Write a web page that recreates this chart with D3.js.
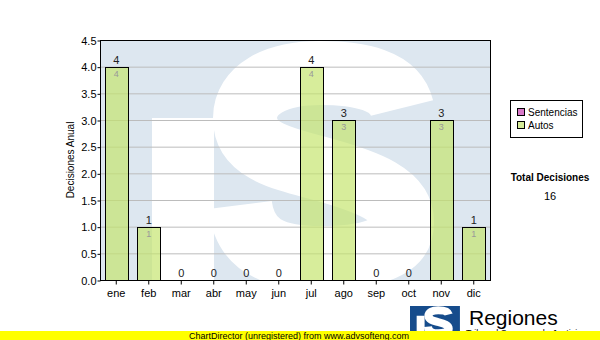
<!DOCTYPE html>
<html>
<head>
<meta charset="utf-8">
<script src="https://cdn.jsdelivr.net/npm/d3@7"></script>
<style>
  body { margin: 0; background: #fff; }
  text { font-family: "Liberation Sans", Arial, sans-serif; }
</style>
</head>
<body>
<div id="chart"></div>
<script>
// data
var months = ["ene", "feb", "mar", "abr", "may", "jun", "jul", "ago", "sep", "oct", "nov", "dic"];
var autos = [4, 1, 0, 0, 0, 0, 4, 3, 0, 0, 3, 1];
var sentencias = [0, 0, 0, 0, 0, 0, 0, 0, 0, 0, 0, 0];
var yTicks = [0, 0.5, 1, 1.5, 2, 2.5, 3, 3.5, 4, 4.5];
var seriesNames = ["Sentencias", "Autos"];
var seriesColors = ["#d878c8", "#d6ec98"];

var W = 600, H = 340;
var plot = {left: 100, top: 40, right: 490, bottom: 280};

// "S" of the logo, as a thick stroke (used for watermark and small logo)
var sPath = "M 402,108 C 395,80 360,73 320,73 C 275,73 245,90 245,118 " +
            "C 245,150 280,158 318,168 C 370,182 402,195 402,222 " +
            "C 402,250 365,258 320,258 C 272,258 245,245 240,205";

var svg = d3.select("#chart").append("svg")
    .attr("width", W)
    .attr("height", H);

var x = d3.scaleBand()
    .domain(months)
    .range([plot.left, plot.right])
    .paddingInner(0.28)
    .paddingOuter(0.14);

var y = d3.scaleLinear()
    .domain([0, 4.5])
    .range([plot.bottom, plot.top]);

// plot background + watermark
svg.append("clipPath").attr("id", "pclip")
  .append("rect")
    .attr("x", plot.left).attr("y", plot.top)
    .attr("width", plot.right - plot.left).attr("height", plot.bottom - plot.top);

function drawLogo(g, bg) {
  g.append("rect")
      .attr("x", 100).attr("y", 40).attr("width", 390).attr("height", 260)
      .attr("fill", bg);
  g.append("rect")
      .attr("x", 152).attr("y", 118).attr("width", 62).attr("height", 182)
      .attr("fill", "#fff");
  g.append("path")
      .attr("d", sPath)
      .attr("fill", "none")
      .attr("stroke", "#fff")
      .attr("stroke-width", 64);
}

var wm = svg.append("g").attr("clip-path", "url(#pclip)");
drawLogo(wm, "#dde7f0");

// grid lines
svg.append("g").selectAll("line")
  .data(yTicks.slice(1, -1))
  .enter().append("line")
    .attr("x1", plot.left).attr("x2", plot.right)
    .attr("y1", function(d) { return y(d) + 0.5; })
    .attr("y2", function(d) { return y(d) + 0.5; })
    .attr("stroke", "#bcbcbc");

// stacked bars
var stack = months.map(function(m, i) {
  return {month: m, s: sentencias[i], a: autos[i], total: sentencias[i] + autos[i]};
});

var bars = svg.append("g");
bars.selectAll("rect.a")
  .data(stack.filter(function(d) { return d.a > 0; }))
  .enter().append("rect")
    .attr("x", function(d) { return Math.round(x(d.month)) + 0.5; })
    .attr("y", function(d) { return Math.round(y(d.a)) + 0.5; })
    .attr("width", Math.round(x.bandwidth()))
    .attr("height", function(d) { return Math.round(y(0)) - Math.round(y(d.a)); })
    .attr("fill", "#c4e46c")
    .attr("fill-opacity", 0.68)
    .attr("stroke", "#000");

// inner small labels
bars.selectAll("text.in")
  .data(stack.filter(function(d) { return d.a > 0; }))
  .enter().append("text")
    .attr("x", function(d) { return x(d.month) + x.bandwidth() / 2; })
    .attr("y", function(d) { return y(d.a) + 10; })
    .attr("text-anchor", "middle")
    .attr("font-size", 9)
    .attr("fill", "#999")
    .text(function(d) { return d.a; });

// totals on top
bars.selectAll("text.tot")
  .data(stack)
  .enter().append("text")
    .attr("x", function(d) { return x(d.month) + x.bandwidth() / 2; })
    .attr("y", function(d) { return y(d.total) - 3; })
    .attr("text-anchor", "middle")
    .attr("font-size", 11)
    .attr("fill", "#222")
    .text(function(d) { return d.total; });

// frame
svg.append("rect")
    .attr("x", plot.left + 0.5).attr("y", plot.top + 0.5)
    .attr("width", plot.right - plot.left).attr("height", plot.bottom - plot.top)
    .attr("fill", "none")
    .attr("stroke", "#000");

// axes
var xAxis = svg.append("g")
    .attr("transform", "translate(0," + (plot.bottom + 0.5) + ")")
    .call(d3.axisBottom(x).tickSize(4).tickSizeOuter(0));
xAxis.select(".domain").remove();
xAxis.selectAll("text").attr("font-size", 11).attr("fill", "#000")
    .attr("font-family", "Liberation Sans, Arial, sans-serif").attr("dy", "0.9em");

var yAxis = svg.append("g")
    .attr("transform", "translate(" + (plot.left + 0.5) + ",0.5)")
    .call(d3.axisLeft(y).tickValues(yTicks).tickFormat(d3.format(".1f")).tickSize(3).tickSizeOuter(0));
yAxis.select(".domain").remove();
yAxis.selectAll("text").attr("font-size", 11).attr("fill", "#000")
    .attr("font-family", "Liberation Sans, Arial, sans-serif").attr("x", -4);

svg.append("text")
    .attr("transform", "translate(74,160) rotate(-90)")
    .attr("text-anchor", "middle")
    .attr("font-size", 10)
    .text("Decisiones Anual");

// legend
var lg = svg.append("g");
lg.append("rect")
    .attr("x", 510.5).attr("y", 100.5).attr("width", 72).attr("height", 37)
    .attr("fill", "#fff").attr("stroke", "#000");
seriesNames.forEach(function(n, i) {
  lg.append("rect")
      .attr("x", 517.5).attr("y", 108.5 + i * 13).attr("width", 7).attr("height", 7)
      .attr("fill", seriesColors[i]).attr("stroke", "#000");
  lg.append("text")
      .attr("x", 528).attr("y", 116 + i * 13)
      .attr("font-size", 10)
      .text(n);
});

// total
var total = d3.sum(autos) + d3.sum(sentencias);
svg.append("text")
    .attr("x", 550).attr("y", 181)
    .attr("text-anchor", "middle")
    .attr("font-size", 10).attr("font-weight", "bold")
    .text("Total Decisiones");
svg.append("text")
    .attr("x", 550).attr("y", 200)
    .attr("text-anchor", "middle")
    .attr("font-size", 11)
    .text(total);

// small logo at the bottom (same shape, scaled down)
svg.append("clipPath").attr("id", "lclip")
  .append("rect")
    .attr("x", 410).attr("y", 306).attr("width", 50).attr("height", 30);
var logo = svg.append("g").attr("clip-path", "url(#lclip)")
  .append("g")
    .attr("transform", "translate(410,306) scale(0.128,0.125) translate(-100,-40)");
drawLogo(logo, "#164c8c");

svg.append("text")
    .attr("x", 469).attr("y", 325)
    .attr("font-size", 21)
    .text("Regiones");
svg.append("text")
    .attr("x", 466).attr("y", 336)
    .attr("font-size", 9)
    .text("Tribunal Supremo de Justicia");

// unregistered banner
svg.append("rect")
    .attr("x", 0).attr("y", 331).attr("width", W).attr("height", 9)
    .attr("fill", "#ffff00");
svg.append("text")
    .attr("x", 299).attr("y", 339)
    .attr("text-anchor", "middle")
    .attr("font-size", 9)
    .text("ChartDirector (unregistered) from www.advsofteng.com");
</script>
</body>
</html>
